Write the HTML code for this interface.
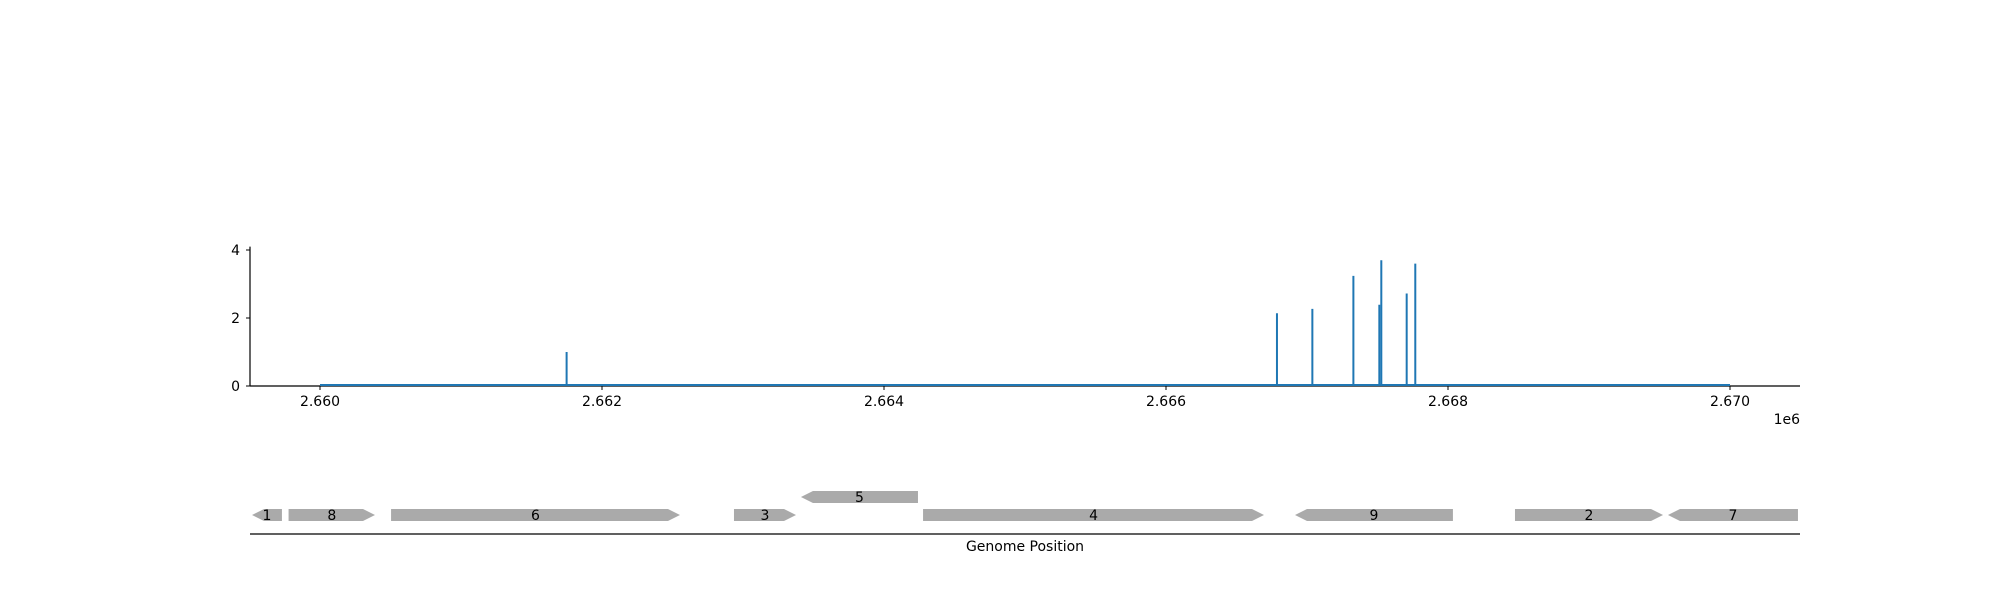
<!DOCTYPE html>
<html><head><meta charset="utf-8"><style>
body{margin:0;background:#fff}
svg text{font-family:"DejaVu Sans","Liberation Sans",sans-serif;font-size:14px;fill:#000}
</style></head><body>
<svg id="chart" width="2000" height="600" xmlns="http://www.w3.org/2000/svg">
<g id="plot"></g>
<g id="genes"></g>
</svg>
<script>
const xTicks=[2.660,2.662,2.664,2.666,2.668,2.670];
const xTickLabels=["2.660","2.662","2.664","2.666","2.668","2.670"];
const yTicks=[0,2,4];
const spikePos=[2661749,2666787,2667038,2667329,2667513,2667527,2667707,2667768];
const spikeVal=[1.0,2.14,2.27,3.24,2.39,3.7,2.72,3.6];
const baseRange=[2660000,2670000];
const geneNames=["1","8","6","3","5","4","9","2","7"];
const geneStart=[2659518,2659777,2660504,2662936,2663411,2664277,2666915,2668475,2669560];
const geneEnd=[2659730,2660390,2662553,2663376,2664241,2666695,2668035,2669525,2670482];
const geneStrand=[-1,1,1,1,-1,1,-1,1,-1];
const geneRow=[0,0,0,0,1,0,0,0,0];

const NS="http://www.w3.org/2000/svg";
function X(v){return 320+(v-2660000)*0.141;}
function Y(v){return 386-v*34;}
function mk(p,t,a){const e=document.createElementNS(NS,t);for(const k in a)e.setAttribute(k,a[k]);p.appendChild(e);return e;}
const plot=document.getElementById('plot');
const genes=document.getElementById('genes');

let e=mk(plot,'line',{x1:250,y1:386,x2:1800,y2:386,stroke:'#000','stroke-width':1.2});


e=mk(plot,'line',{x1:250,y1:386,x2:250,y2:Y(4.1),stroke:'#000','stroke-width':1.2});


xTicks.forEach((t,i)=>{const x=X(t*1e6);
 e=mk(plot,'line',{x1:x,y1:386,x2:x,y2:390,stroke:'#000'});
 
 
 e=mk(plot,'text',{x:x,y:406,'text-anchor':'middle'});e.textContent=xTickLabels[i];
 
 
});
yTicks.forEach(t=>{const y=Y(t);
 e=mk(plot,'line',{x1:246,y1:y,x2:250,y2:y,stroke:'#000'});
 
 
 e=mk(plot,'text',{x:240,y:y+5,'text-anchor':'end'});e.textContent=t;
 
 
});
e=mk(plot,'text',{x:1800,y:424,'text-anchor':'end'});e.textContent='1e6';


e=mk(plot,'line',{x1:X(baseRange[0]),y1:Y(0)-1,x2:X(baseRange[1]),y2:Y(0)-1,stroke:'#1f77b4','stroke-width':2});


spikePos.forEach((p,i)=>{
 e=mk(plot,'line',{x1:X(p),y1:Y(0),x2:X(p),y2:Y(spikeVal[i]),stroke:'#1f77b4','stroke-width':2});
 
 
});

e=mk(genes,'line',{x1:250,y1:534,x2:1800,y2:534,stroke:'#000','stroke-width':1.2});


e=mk(genes,'text',{x:1025,y:551,'text-anchor':'middle'});e.textContent='Genome Position';


geneNames.forEach((n,i)=>{
 const x1=X(geneStart[i]),x2=X(geneEnd[i]);const cy=geneRow[i]?497:515;const h=6;const hl=Math.min(12,(x2-x1)/2);
 let pts;
 if(geneStrand[i]>0)pts=[[x1,cy-h],[x2-hl,cy-h],[x2,cy],[x2-hl,cy+h],[x1,cy+h]];
 else pts=[[x1,cy],[x1+hl,cy-h],[x2,cy-h],[x2,cy+h],[x1+hl,cy+h]];
 e=mk(genes,'polygon',{points:pts.map(p=>p.join(',')).join(' '),fill:'#aaaaaa'});
 
 
 e=mk(genes,'text',{x:(x1+x2)/2,y:cy+5,'text-anchor':'middle'});e.textContent=n;
 
 
});
</script>
</body></html>
